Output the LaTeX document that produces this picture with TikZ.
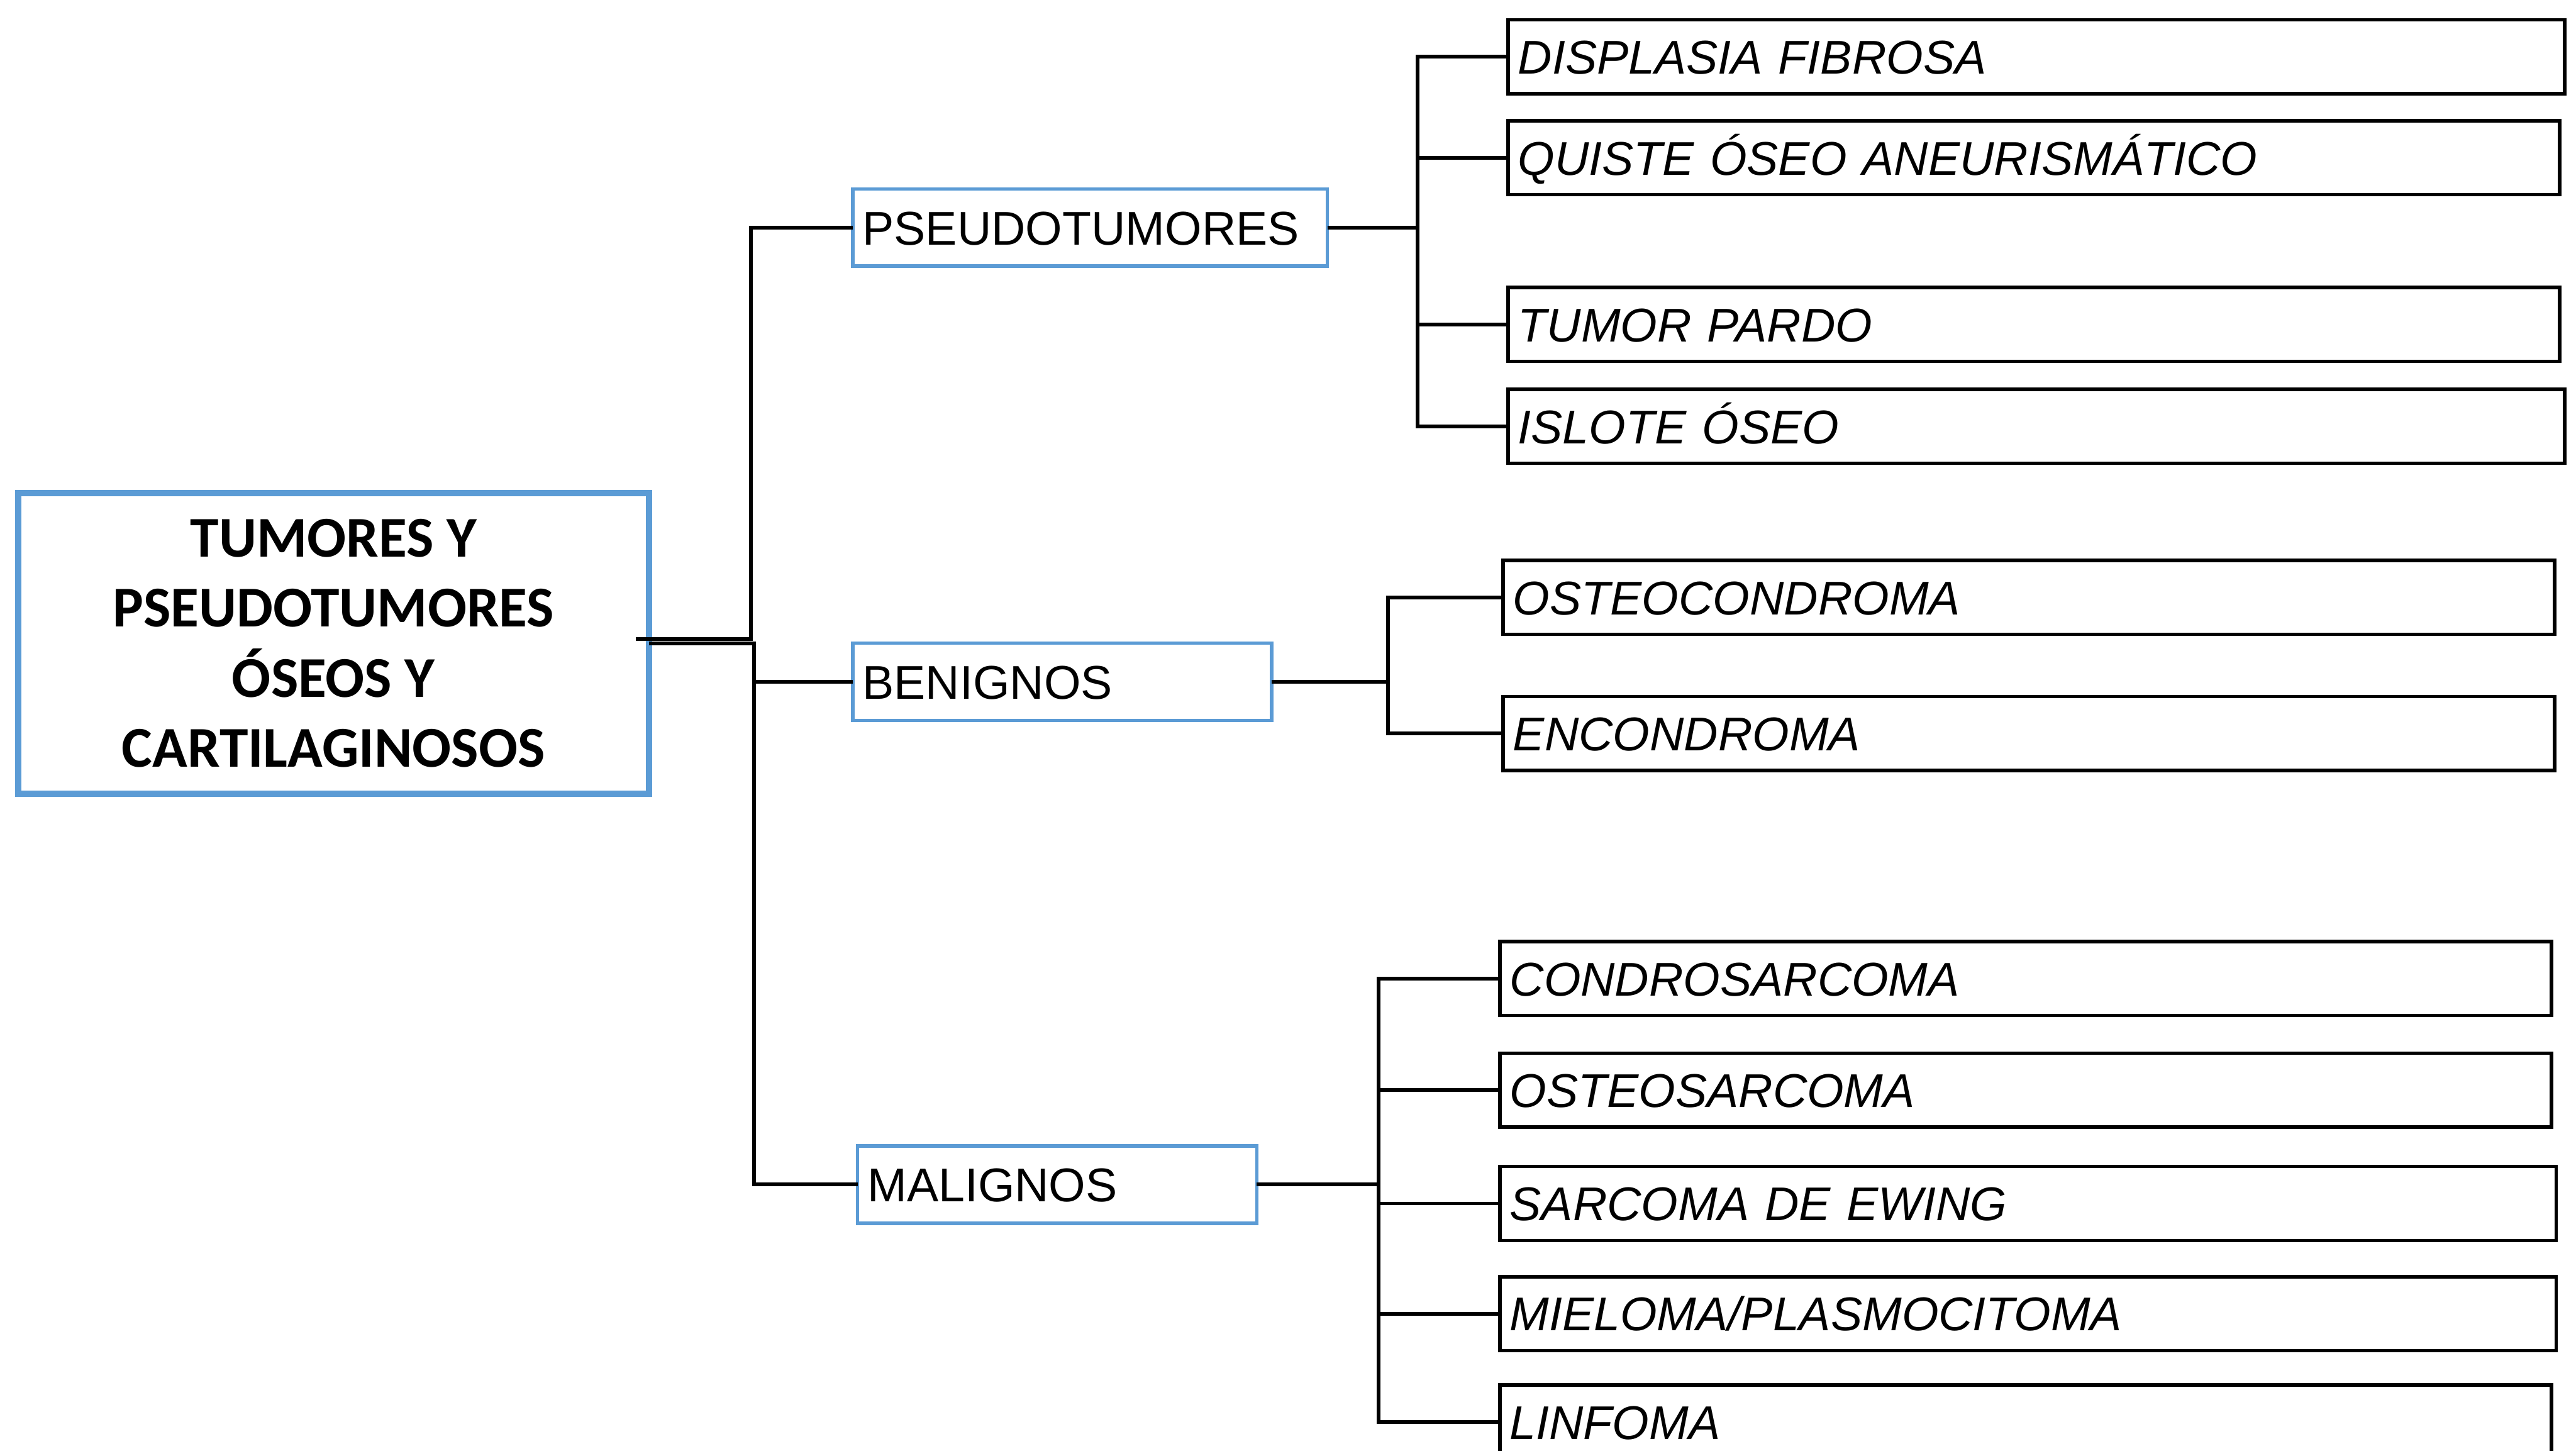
\documentclass[tikz,border=0pt]{standalone}
\usepackage{fontspec}
\setmainfont{Liberation Sans}
\newfontfamily\titlefont{Carlito}
\definecolor{boxblue}{HTML}{5B9BD5}
\begin{document}
\begin{tikzpicture}[
  every node/.style={outer sep=0pt, inner xsep=0.06cm},
  link/.style={line width=0.65pt},
  title/.style={draw=boxblue, line width=1.1pt, minimum width=3.84cm, minimum height=1.83cm,
    align=center, font=\titlefont\bfseries\fontsize{10}{12.1}\selectfont},
  group/.style={draw=boxblue, line width=0.6pt, anchor=west, minimum height=0.47cm,
    text height=0.21cm, text depth=0pt, text width=#1, font=\fontsize{8.2}{10}\selectfont},
  item/.style={draw, line width=0.6pt, anchor=west, minimum height=0.45cm,
    text height=0.21cm, text depth=0pt, text width=#1, font=\itshape\fontsize{8.2}{10}\selectfont},
  item/.default=6.28cm
]
\useasboundingbox (0,0) rectangle (15.68,-8.83);
\clip (0,0) rectangle (15.68,-8.83);

\node[title] (main) at (2.03,-3.915) {TUMORES Y\\PSEUDOTUMORES\\ÓSEOS Y\\CARTILAGINOSOS};

\node[group=2.77cm] (pseudo) at (5.19,-1.385) {PSEUDOTUMORES};
\node[group=2.43cm] (benig) at (5.19,-4.15) {BENIGNOS};
\node[group=2.31cm] (malig) at (5.22,-7.21) {MALIGNOS};

% pseudotumores
\node[item=6.31cm] (d1) at (9.18,-0.345) {DISPLASIA FIBROSA};
\node[item] (d2) at (9.18,-0.96) {QUISTE ÓSEO ANEURISMÁTICO};
\node[item] (d3) at (9.18,-1.975) {TUMOR PARDO};
\node[item=6.31cm] (d4) at (9.18,-2.595) {ISLOTE ÓSEO};

% benignos
\node[item] (b1) at (9.15,-3.635) {OSTEOCONDROMA};
\node[item] (b2) at (9.15,-4.465) {ENCONDROMA};

% malignos
\node[item] (m1) at (9.13,-5.955) {CONDROSARCOMA};
\node[item] (m2) at (9.13,-6.635) {OSTEOSARCOMA};
\node[item=6.31cm] (m3) at (9.13,-7.325) {SARCOMA DE EWING};
\node[item=6.31cm] (m4) at (9.13,-7.995) {MIELOMA/PLASMOCITOMA};
\node[item] (m5) at (9.13,-8.655) {LINFOMA};

\draw[link] ([xshift=-0.08cm,yshift=0.025cm]main.east) -- ++(0.70,0) |- (pseudo.west);
\draw[link] (main.east) -- ++(0.64,0) |- (benig.west);
\draw[link] (main.east) -- ++(0.64,0) |- (malig.west);

\foreach \n in {d1,d2,d3,d4} \draw[link] (pseudo.east) -- ++(0.55,0) |- (\n.west);
\foreach \n in {b1,b2} \draw[link] (benig.east) -- ++(0.71,0) |- (\n.west);
\foreach \n in {m1,m2,m3,m4,m5} \draw[link] (malig.east) -- ++(0.74,0) |- (\n.west);
\end{tikzpicture}
\end{document}
